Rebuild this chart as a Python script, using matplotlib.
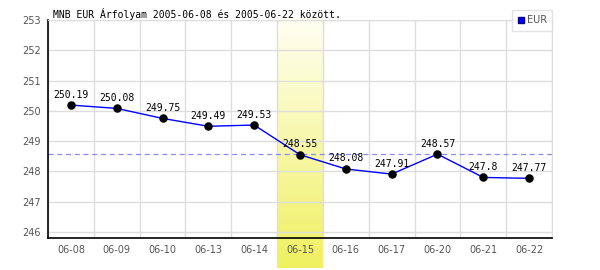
import numpy as np
import matplotlib.pyplot as plt

dates = ["06-08", "06-09", "06-10", "06-13", "06-14", "06-15",
         "06-16", "06-17", "06-20", "06-21", "06-22"]
eur = [250.19, 250.08, 249.75, 249.49, 249.53, 248.55,
       248.08, 247.91, 248.57, 247.8, 247.77]
labels = ["250.19", "250.08", "249.75", "249.49", "249.53", "248.55",
          "248.08", "247.91", "248.57", "247.8", "247.77"]
ref_level = 248.57
highlight = 5
yticks = [246, 247, 248, 249, 250, 251, 252, 253]

fig = plt.figure(figsize=(6, 2.7), dpi=100)
ax = fig.add_axes([0.08, 0.1185, 0.84, 0.8075])
ax.set_facecolor("none")

# yellow gradient band behind the highlighted day (spans below the axis too)
n = len(dates)
bx0 = 0.08 + 0.84 * highlight / n
bw = 0.84 / n
band = fig.add_axes([bx0, 0.0074, bw, 0.926], zorder=-1)
grad = np.linspace(0, 1, 256).reshape(-1, 1)
top = np.array([1.0, 1.0, 0.96])
bot = np.array([0.94, 0.94, 0.38])
img = top + (bot - top) * grad[:, :, None]
band.imshow(img, aspect="auto", extent=[0, 1, 1, 0])
band.axis("off")

x = np.arange(n)
ax.plot(x, eur, color="#0000ff", lw=1, zorder=3)
ax.scatter(x, eur, s=26, color="black", zorder=4)
for xi, yi, lab in zip(x, eur, labels):
    ax.annotate(lab, (xi, yi), xytext=(0, 4), textcoords="offset points",
                ha="center", va="bottom", fontsize=7, family="DejaVu Sans Mono",
                color="black", zorder=5)

ax.axhline(ref_level, color="#8888ff", lw=0.9, ls=(0, (4, 3)), zorder=2)

ax.set_xlim(-0.5, n - 0.5)
ax.set_ylim(245.8, 253)
ax.set_yticks(yticks)
ax.set_yticklabels([str(t) for t in yticks])
ax.set_xticks(x)
ax.set_xticklabels(dates)
ax.set_xticks(np.arange(-0.5, n, 1), minor=True)
ax.grid(False)
ax.grid(True, which="minor", axis="x", color="#dddddd", lw=1)
ax.grid(True, which="major", axis="y", color="#dddddd", lw=1)
ax.tick_params(which="both", length=0)
ax.tick_params(axis="both", labelsize=7, labelcolor="#555555")
ax.tick_params(axis="x", pad=5)
ax.tick_params(axis="y", pad=5)
for s in ["top", "right"]:
    ax.spines[s].set_color("#dddddd")
for s in ["left", "bottom"]:
    ax.spines[s].set_color("black")
    ax.spines[s].set_linewidth(1.2)

fig.text(0.088, 0.95, "MNB EUR Árfolyam 2005-06-08 és 2005-06-22 között.",
         fontsize=7, family="DejaVu Sans Mono", ha="left", va="center")

leg = fig.legend(handles=[plt.Line2D([], [], ls="none", marker="s", ms=5,
                                     color="#0000ff", markeredgecolor="#000088")],
                 labels=["EUR"], loc="upper right", bbox_to_anchor=(0.92, 0.963),
                 fontsize=7, frameon=True, fancybox=False, handlelength=0.6,
                 handletextpad=0.3, borderpad=0.55, borderaxespad=0)
leg.get_frame().set_edgecolor("#dddddd")
leg.get_frame().set_linewidth(1)
for t in leg.get_texts():
    t.set_color("#555555")

fig.savefig("out.png", dpi=100)
